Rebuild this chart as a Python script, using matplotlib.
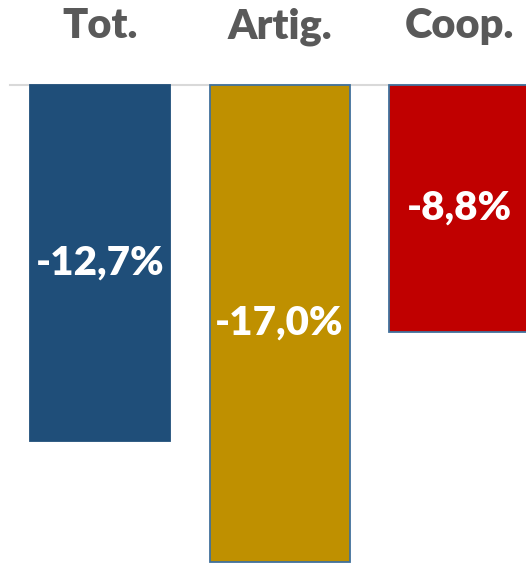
import numpy as np
import matplotlib
matplotlib.use('Agg')
import matplotlib.pyplot as plt

#chart data
categories = ['Tot.', 'Artig.', 'Coop.']
values = [-12.7, -17.0, -8.8]
labels = ['-12,7%', '-17,0%', '-8,8%']
colors = ['#1F4E79', '#BF9000', '#C00000']
edges = ['#1F4E79', '#41719C', '#41719C']

plt.rcParams['font.family'] = ['Lato', 'DejaVu Sans']

W, H = 526, 563
fig = plt.figure(figsize=(W / 100, H / 100), dpi=100)
ax = fig.add_axes([0, 0, 1, 1])

#pixel layout: bar centres every 179.5 px starting at 100, zero line at 85 px from top
step = 179.5
x0 = 100
scale = 28.05
zero_px = 85

x = np.arange(len(categories))
ax.bar(x, values, width=140 / step, color=colors, edgecolor=edges, linewidth=1.3, zorder=2)

ax.set_xlim(-x0 / step, (W - x0) / step)
ax.set_ylim(-(H - zero_px) / scale, zero_px / scale)
ax.axhline(0, xmin=10 / W, xmax=1, color='#D9D9D9', linewidth=1.5, zorder=1)

for xi, v, lab in zip(x, values, labels):
    ax.text(xi, v / 2, lab, ha='center', va='center', color='white',
            fontsize=29, fontweight='heavy', zorder=3)

#category names sit above the zero line, baseline ~38 px from the top
for xi, cat in zip(x, categories):
    ax.text(xi, (zero_px - 38) / scale, cat, ha='center', va='baseline', color='#595959',
            fontsize=30, fontweight='heavy')

ax.axis('off')
fig.savefig('out.png', dpi=100)
